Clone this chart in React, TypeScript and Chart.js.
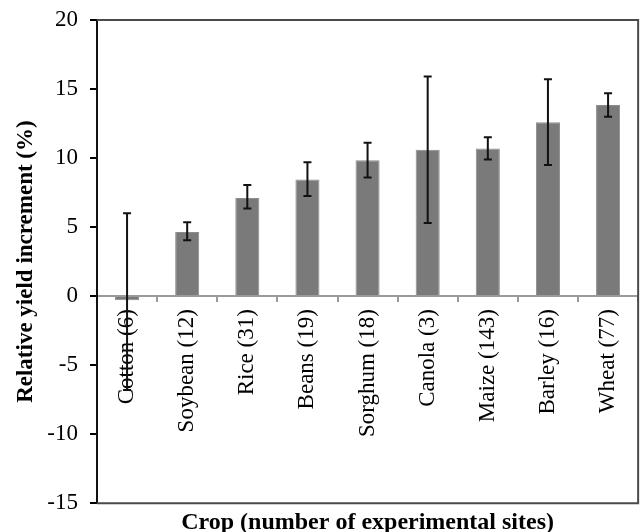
import React, { useEffect, useRef } from "react";
import { Chart, registerables } from "chart.js";

Chart.register(...registerables);

const categories = [
  "Cotton (6)",
  "Soybean (12)",
  "Rice (31)",
  "Beans (19)",
  "Sorghum (18)",
  "Canola (3)",
  "Maize (143)",
  "Barley (16)",
  "Wheat (77)",
];
const yieldIncrement = [-0.3, 4.65, 7.1, 8.45, 9.85, 10.6, 10.7, 12.6, 13.85];
const errLow = [-6.8, 4.05, 6.35, 7.25, 8.6, 5.3, 9.9, 9.5, 13.0];
const errHigh = [6.0, 5.35, 8.05, 9.7, 11.1, 15.9, 11.5, 15.7, 14.7];
const yMin = -15;
const yMax = 20;
const yStep = 5;

const FONT = "'Liberation Serif', 'Times New Roman', serif";

const frameAndErrors = {
  id: "frameAndErrors",
  beforeDatasetsDraw(chart: any) {
    const { ctx, chartArea } = chart;
    ctx.save();
    ctx.strokeStyle = "#4a4a4a";
    ctx.lineWidth = 2;
    ctx.beginPath();
    ctx.moveTo(chartArea.left, chartArea.top);
    ctx.lineTo(chartArea.right, chartArea.top);
    ctx.lineTo(chartArea.right, chartArea.bottom);
    ctx.lineTo(chartArea.left, chartArea.bottom);
    ctx.stroke();
    ctx.restore();
  },
  afterDatasetsDraw(chart: any) {
    const { ctx } = chart;
    const yScale = chart.scales.y;
    const meta = chart.getDatasetMeta(0);
    ctx.save();
    ctx.strokeStyle = "#111";
    ctx.lineWidth = 2;
    meta.data.forEach((bar: any, i: number) => {
      const x = bar.x;
      const yl = yScale.getPixelForValue(errLow[i]);
      const yh = yScale.getPixelForValue(errHigh[i]);
      const cap = 4;
      ctx.beginPath();
      ctx.moveTo(x, yl);
      ctx.lineTo(x, yh);
      ctx.moveTo(x - cap, yh);
      ctx.lineTo(x + cap, yh);
      ctx.moveTo(x - cap, yl);
      ctx.lineTo(x + cap, yl);
      ctx.stroke();
    });
    ctx.restore();
  },
};

export default function App() {
  const ref = useRef<HTMLCanvasElement | null>(null);

  useEffect(() => {
    if (!ref.current) return;
    const chart = new Chart(ref.current, {
      type: "bar",
      data: {
        labels: categories,
        datasets: [
          {
            data: yieldIncrement,
            backgroundColor: "#7a7a7a",
            borderColor: "#8c8c8c",
            borderWidth: 1,
            barPercentage: 0.8,
            categoryPercentage: 0.5,
          },
        ],
      },
      options: {
        responsive: false,
        animation: false,
        layout: { padding: { left: 0, right: 4, top: 20, bottom: 0 } },
        plugins: {
          legend: { display: false },
          tooltip: { enabled: false },
          title: {
            display: true,
            position: "bottom",
            fullSize: false,
            text: "Crop (number of experimental sites)",
            color: "#000",
            font: { family: FONT, size: 24, weight: "bold" },
            padding: { top: 5, bottom: -5 },
          },
        },
        scales: {
          x: {
            position: { y: 0 } as any,
            grid: {
              offset: true,
              drawOnChartArea: false,
              drawTicks: true,
              tickLength: 5,
              color: "#9a9a9a",
              lineWidth: 2,
            },
            border: { display: true, color: "#9a9a9a", width: 2 },
            ticks: {
              autoSkip: false,
              minRotation: 90,
              maxRotation: 90,
              padding: 8,
              color: "#000",
              font: { family: FONT, size: 23 },
            },
          },
          y: {
            min: yMin,
            max: yMax,
            ticks: {
              stepSize: yStep,
              color: "#000",
              padding: 12,
              font: { family: FONT, size: 23 },
            },
            grid: {
              drawOnChartArea: false,
              drawTicks: true,
              tickLength: 7,
              color: "#000",
              lineWidth: 2,
            },
            border: { display: true, color: "#111", width: 2 },
            title: {
              display: true,
              text: "Relative yield increment (%)",
              color: "#000",
              font: { family: FONT, size: 23, weight: "bold" },
              padding: { top: 12, bottom: 0 },
            },
            afterFit(scale: any) {
              scale.width = 97;
              scale.paddingTop = 0;
              scale.paddingBottom = 0;
            },
          },
        },
      },
      plugins: [frameAndErrors],
    });
    return () => chart.destroy();
  }, []);

  return (
    <div style={{ position: "absolute", left: 0, top: 0, width: 644, height: 532, background: "#fff" }}>
      <canvas ref={ref} width={644} height={532} style={{ display: "block" }} />
    </div>
  );
}
